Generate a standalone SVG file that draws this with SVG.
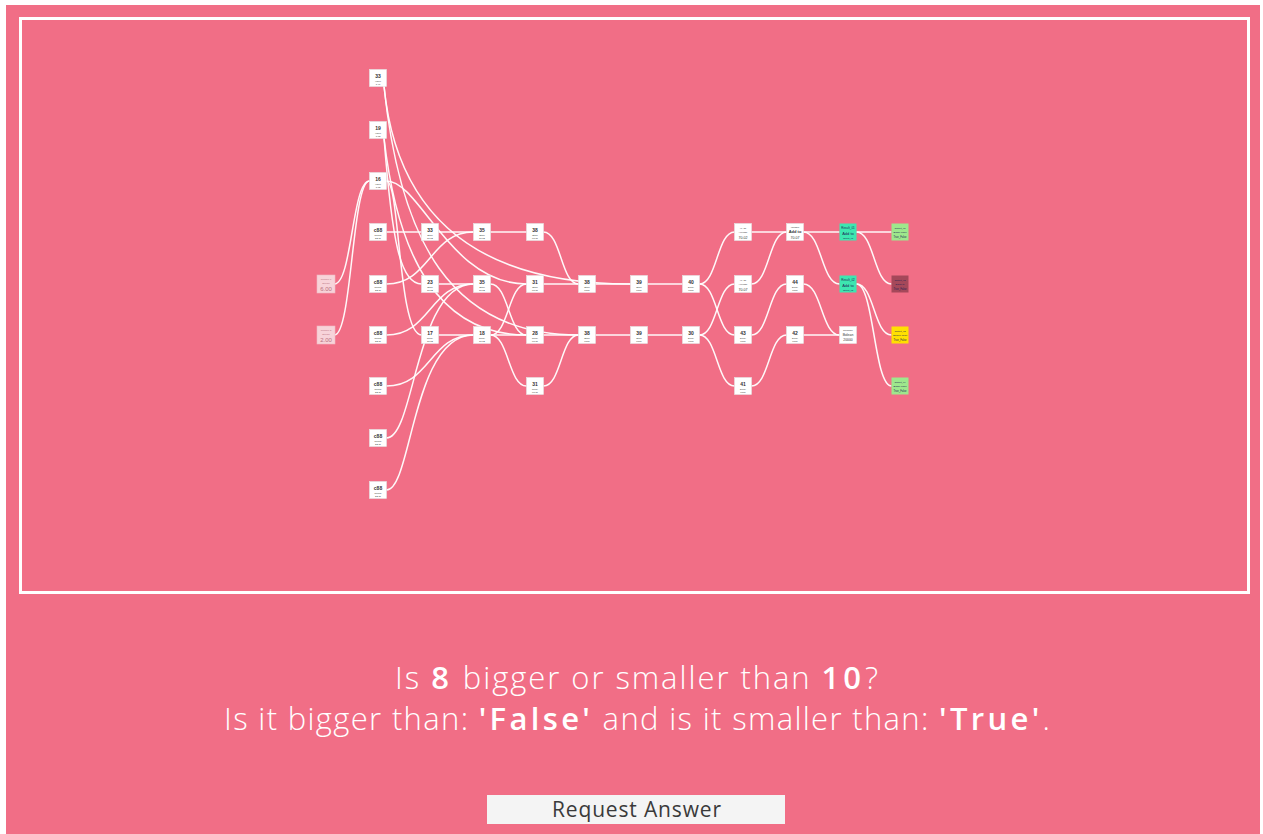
<svg xmlns="http://www.w3.org/2000/svg" width="1263" height="834" viewBox="0 0 1263 834">
<defs>
<style>
.n rect{fill:#ffffff;stroke:#e4e4e4;stroke-width:0.6}
.n text{font-family:"Liberation Sans",Arial,sans-serif;fill:#333;text-anchor:middle}
.t1{font-size:5px;font-weight:bold}
.t2{font-size:2.4px;fill:#666}
.inp rect{fill:#f7d3d9;stroke:#f0b9c3;stroke-width:0.6}
.inp text{font-family:"Liberation Sans",Arial,sans-serif;fill:#b9707e;text-anchor:middle}
.c text{font-family:"Liberation Sans",Arial,sans-serif;fill:#225;text-anchor:middle}
#edges path{fill:none;stroke:#ffffff;stroke-width:1.5;stroke-opacity:0.95}
.q{font-family:"Open Sans",Lato,sans-serif;font-weight:300;fill:#ffffff;font-size:31px}
.b{font-weight:600;letter-spacing:2px}
</style>
</defs>
<rect x="0" y="0" width="1263" height="834" fill="#ffffff"/>
<rect x="6" y="5" width="1254" height="829" fill="#f16e86"/>
<rect x="20.5" y="18.5" width="1228" height="574" fill="none" stroke="#ffffff" stroke-width="3"/>

<g id="edges">
<path d="M334.5 284 C352 284 352 181 369.5 181"/>
<path d="M334.5 335 C352 335 352 181 369.5 181"/>
<path d="M386.5 232 L421.5 232"/>
<path d="M386.5 284 C430 284 430 232 473.5 232"/>
<path d="M386.5 335 C430 335 430 284 473.5 284"/>
<path d="M386.5 386 C430 386 430 335 473.5 335"/>
<path d="M386.5 438 C415 438 415 284 473.5 284"/>
<path d="M386.5 490 C412 490 412 335 473.5 335"/>
<path d="M384 86 C396 210 470 284 630.5 284"/>
<path d="M384 86 C400 240 450 335 578.5 335"/>
<path d="M384 138 C398 260 440 335 526.5 335"/>
<path d="M384 138 C392 240 400 284 421.5 284"/>
<path d="M386.5 181 C400 181 398 335 421.5 335"/>
<path d="M386.5 181 C420 181 450 284 526.5 284"/>
<path d="M438.5 232 L473.5 232"/>
<path d="M438.5 284 L473.5 284"/>
<path d="M438.5 335 L473.5 335"/>
<path d="M490.5 232 L526.5 232"/>
<path d="M490.5 284 C508.5 284 508.5 335 526.5 335"/>
<path d="M490.5 335 C508.5 335 508.5 284 526.5 284"/>
<path d="M490.5 335 L526.5 335"/>
<path d="M490.5 335 C508.5 335 508.5 386 526.5 386"/>
<path d="M543.5 232 C561 232 561 284 578.5 284"/>
<path d="M543.5 284 L578.5 284"/>
<path d="M543.5 335 L578.5 335"/>
<path d="M543.5 386 C561 386 561 335 578.5 335"/>
<path d="M595.5 284 L630.5 284"/>
<path d="M595.5 335 L630.5 335"/>
<path d="M647.5 284 L682.5 284"/>
<path d="M647.5 335 L682.5 335"/>
<path d="M699.5 284 C717 284 717 232 734.5 232"/>
<path d="M699.5 284 C717 284 717 335 734.5 335"/>
<path d="M699.5 335 C717 335 717 284 734.5 284"/>
<path d="M699.5 335 C717 335 717 386 734.5 386"/>
<path d="M751.5 232 L786.5 232"/>
<path d="M751.5 284 C769 284 769 232 786.5 232"/>
<path d="M751.5 335 C769 335 769 284 786.5 284"/>
<path d="M751.5 386 C769 386 769 335 786.5 335"/>
<path d="M803.5 232 L839.5 232"/>
<path d="M803.5 232 C821.5 232 821.5 284 839.5 284"/>
<path d="M803.5 284 C821.5 284 821.5 335 839.5 335"/>
<path d="M803.5 335 L839.5 335"/>
<path d="M856.5 232 L891.5 232"/>
<path d="M856.5 232 C874 232 874 284 891.5 284"/>
<path d="M856.5 284 C874 284 874 335 891.5 335"/>
<path d="M856.5 284 C874 284 874 386 891.5 386"/>
</g>

<g id="in1" class="inp"><rect x="317" y="275" width="18" height="18"/><text x="326" y="280" font-size="2.4">Number 1</text><text x="326" y="284" font-size="2.4">Stream</text><text x="326" y="291" font-size="6">6.00</text></g>
<g id="in2" class="inp"><rect x="317" y="326" width="18" height="18"/><text x="326" y="331" font-size="2.4">Number 2</text><text x="326" y="335" font-size="2.4">Stream</text><text x="326" y="342" font-size="6">2.00</text></g>

<g id="t33" class="n"><rect x="369.5" y="69.5" width="17" height="17"/><text class="t1" x="378" y="78">33</text><text class="t2" x="378" y="82">Value</text><text class="t2" x="378" y="85">1.47</text></g>
<g id="t19" class="n"><rect x="369.5" y="121.5" width="17" height="17"/><text class="t1" x="378" y="130">19</text><text class="t2" x="378" y="134">Value</text><text class="t2" x="378" y="137">1.02</text></g>
<g id="t16" class="n"><rect x="369.5" y="172.5" width="17" height="17"/><text class="t1" x="378" y="181">16</text><text class="t2" x="378" y="185">Value</text><text class="t2" x="378" y="188">1.02</text></g>
<g id="c1" class="n"><rect x="369.5" y="223.5" width="17" height="17"/><text class="t1" x="378" y="232">c88</text><text class="t2" x="378" y="236">Rollup</text><text class="t2" x="378" y="239">22.11</text></g>
<g id="c2" class="n"><rect x="369.5" y="275.5" width="17" height="17"/><text class="t1" x="378" y="284">c88</text><text class="t2" x="378" y="288">Rollup</text><text class="t2" x="378" y="291">22.11</text></g>
<g id="c3" class="n"><rect x="369.5" y="326.5" width="17" height="17"/><text class="t1" x="378" y="335">c88</text><text class="t2" x="378" y="339">Rollup</text><text class="t2" x="378" y="342">22.11</text></g>
<g id="c4" class="n"><rect x="369.5" y="377.5" width="17" height="17"/><text class="t1" x="378" y="386">c88</text><text class="t2" x="378" y="390">Rollup</text><text class="t2" x="378" y="393">22.11</text></g>
<g id="c5" class="n"><rect x="369.5" y="429.5" width="17" height="17"/><text class="t1" x="378" y="438">c88</text><text class="t2" x="378" y="442">Rollup</text><text class="t2" x="378" y="445">22.11</text></g>
<g id="c6" class="n"><rect x="369.5" y="481.5" width="17" height="17"/><text class="t1" x="378" y="490">c88</text><text class="t2" x="378" y="494">Rollup</text><text class="t2" x="378" y="497">22.11</text></g>

<g id="a1" class="n"><rect x="421.5" y="223.5" width="17" height="17"/><text class="t1" x="430" y="232">33</text><text class="t2" x="430" y="236">Store</text><text class="t2" x="430" y="239">11:02</text></g>
<g id="a2" class="n"><rect x="421.5" y="275.5" width="17" height="17"/><text class="t1" x="430" y="284">23</text><text class="t2" x="430" y="288">Store</text><text class="t2" x="430" y="291">11:02</text></g>
<g id="a3" class="n"><rect x="421.5" y="326.5" width="17" height="17"/><text class="t1" x="430" y="335">17</text><text class="t2" x="430" y="339">Relay</text><text class="t2" x="430" y="342">11:02</text></g>

<g id="b1" class="n"><rect x="473.5" y="223.5" width="17" height="17"/><text class="t1" x="482" y="232">35</text><text class="t2" x="482" y="236">Store</text><text class="t2" x="482" y="239">11:12</text></g>
<g id="b2" class="n"><rect x="473.5" y="275.5" width="17" height="17"/><text class="t1" x="482" y="284">35</text><text class="t2" x="482" y="288">Store</text><text class="t2" x="482" y="291">11:12</text></g>
<g id="b3" class="n"><rect x="473.5" y="326.5" width="17" height="17"/><text class="t1" x="482" y="335">18</text><text class="t2" x="482" y="339">Relay</text><text class="t2" x="482" y="342">11:12</text></g>

<g id="d1" class="n"><rect x="526.5" y="223.5" width="17" height="17"/><text class="t1" x="535" y="232">38</text><text class="t2" x="535" y="236">Store</text><text class="t2" x="535" y="239">00:11</text></g>
<g id="d2" class="n"><rect x="526.5" y="275.5" width="17" height="17"/><text class="t1" x="535" y="284">31</text><text class="t2" x="535" y="288">Store</text><text class="t2" x="535" y="291">00:11</text></g>
<g id="d3" class="n"><rect x="526.5" y="326.5" width="17" height="17"/><text class="t1" x="535" y="335">28</text><text class="t2" x="535" y="339">Relay</text><text class="t2" x="535" y="342">00:11</text></g>
<g id="d4" class="n"><rect x="526.5" y="377.5" width="17" height="17"/><text class="t1" x="535" y="386">31</text><text class="t2" x="535" y="390">Relay</text><text class="t2" x="535" y="393">00:11</text></g>

<g id="e1" class="n"><rect x="578.5" y="275.5" width="17" height="17"/><text class="t1" x="587" y="284">38</text><text class="t2" x="587" y="288">Store</text><text class="t2" x="587" y="291">0001</text></g>
<g id="e2" class="n"><rect x="578.5" y="326.5" width="17" height="17"/><text class="t1" x="587" y="335">38</text><text class="t2" x="587" y="339">Store</text><text class="t2" x="587" y="342">0001</text></g>
<g id="f1" class="n"><rect x="630.5" y="275.5" width="17" height="17"/><text class="t1" x="639" y="284">39</text><text class="t2" x="639" y="288">Store</text><text class="t2" x="639" y="291">0001</text></g>
<g id="f2" class="n"><rect x="630.5" y="326.5" width="17" height="17"/><text class="t1" x="639" y="335">39</text><text class="t2" x="639" y="339">Store</text><text class="t2" x="639" y="342">0001</text></g>
<g id="g1" class="n"><rect x="682.5" y="275.5" width="17" height="17"/><text class="t1" x="691" y="284">40</text><text class="t2" x="691" y="288">Delay</text><text class="t2" x="691" y="291">0001</text></g>
<g id="g2" class="n"><rect x="682.5" y="326.5" width="17" height="17"/><text class="t1" x="691" y="335">30</text><text class="t2" x="691" y="339">Delay</text><text class="t2" x="691" y="342">0001</text></g>

<g id="h1" class="n"><rect x="734.5" y="223.5" width="17" height="17"/><text class="t2" x="743" y="229">Hi, ab</text><text class="t2" x="743" y="233">Average</text><text x="743" y="238.5" font-size="3.6">70.02</text></g>
<g id="h2" class="n"><rect x="734.5" y="275.5" width="17" height="17"/><text class="t2" x="743" y="281">Hi, ab</text><text class="t2" x="743" y="285">Average</text><text x="743" y="290.5" font-size="3.6">70.07</text></g>
<g id="h3" class="n"><rect x="734.5" y="326.5" width="17" height="17"/><text class="t1" x="743" y="335">43</text><text class="t2" x="743" y="339">Delay</text><text class="t2" x="743" y="342">0001</text></g>
<g id="h4" class="n"><rect x="734.5" y="377.5" width="17" height="17"/><text class="t1" x="743" y="386">41</text><text class="t2" x="743" y="390">Delay</text><text class="t2" x="743" y="393">0001</text></g>

<g id="j1" class="n"><rect x="786.5" y="223.5" width="17" height="17"/><text class="t2" x="795" y="227.5">Variable</text><text x="795" y="233" font-size="4" font-weight="bold">Add to</text><text x="795" y="238.5" font-size="3.6">70.07</text></g>
<g id="j2" class="n"><rect x="786.5" y="275.5" width="17" height="17"/><text class="t1" x="795" y="284">44</text><text class="t2" x="795" y="288">Delay</text><text class="t2" x="795" y="291">0001</text></g>
<g id="j3" class="n"><rect x="786.5" y="326.5" width="17" height="17"/><text class="t1" x="795" y="335">42</text><text class="t2" x="795" y="339">Delay</text><text class="t2" x="795" y="342">0001</text></g>

<g id="k1" class="c"><rect x="839.5" y="223.5" width="17" height="17" fill="#3de6b0"/><text x="848" y="229" font-size="3">Result_01</text><text x="848" y="234.5" font-size="4">Add to</text><text x="848" y="238.5" font-size="2.2">Output_01</text></g>
<g id="k2" class="c"><rect x="839.5" y="275.5" width="17" height="17" fill="#3de6b0"/><text x="848" y="281" font-size="3">Result_02</text><text x="848" y="286.5" font-size="4">Add to</text><text x="848" y="290.5" font-size="2.2">Output_02</text></g>
<g id="k3" class="n"><rect x="839.5" y="326.5" width="17" height="17"/><text class="t2" x="848" y="331">Compare</text><text x="848" y="336" font-size="3.4">Bolean</text><text x="848" y="341" font-size="3.4" fill="#777">20000</text></g>

<g id="l1" class="c"><rect x="891.5" y="223.5" width="17" height="17" fill="#9ee88c"/><text x="900" y="228.5" font-size="2.4">Output_01</text><text x="900" y="233" font-size="2.4">Bigger Than</text><text x="900" y="238" font-size="2.6">True_False</text></g>
<g id="l2" class="c"><rect x="891.5" y="275.5" width="17" height="17" fill="#a5485a"/><text x="900" y="280.5" font-size="2.4" fill="#7a2a3a">Output_02</text><text x="900" y="285" font-size="2.4" fill="#7a2a3a">Equal to</text><text x="900" y="290" font-size="2.6" fill="#7a2a3a">True_False</text></g>
<g id="l3" class="c"><rect x="891.5" y="326.5" width="17" height="17" fill="#ffe000"/><text x="900" y="331.5" font-size="2.4">Output_03</text><text x="900" y="336" font-size="2.4">Smaller Than</text><text x="900" y="341" font-size="2.6">True_False</text></g>
<g id="l4" class="c"><rect x="891.5" y="377.5" width="17" height="17" fill="#9ee88c"/><text x="900" y="382.5" font-size="2.4">Output_04</text><text x="900" y="387" font-size="2.4">Bigger Than</text><text x="900" y="392" font-size="2.6">True_False</text></g>

<text class="q" x="395" y="689" textLength="483" lengthAdjust="spacing">Is <tspan class="b">8</tspan> bigger or smaller than <tspan class="b">10</tspan>?</text>
<text class="q" x="224" y="730" textLength="826" lengthAdjust="spacing">Is it bigger than: <tspan class="b">'False'</tspan> and is it smaller than: <tspan class="b">'True'</tspan>.</text>

<g id="button">
<rect x="487" y="795" width="298" height="29" fill="#f4f4f4"/>
<text x="552" y="817" textLength="169" lengthAdjust="spacing" font-family="'Open Sans',Lato,sans-serif" font-size="21" fill="#3a3a3a">Request Answer</text>
</g>
</svg>
